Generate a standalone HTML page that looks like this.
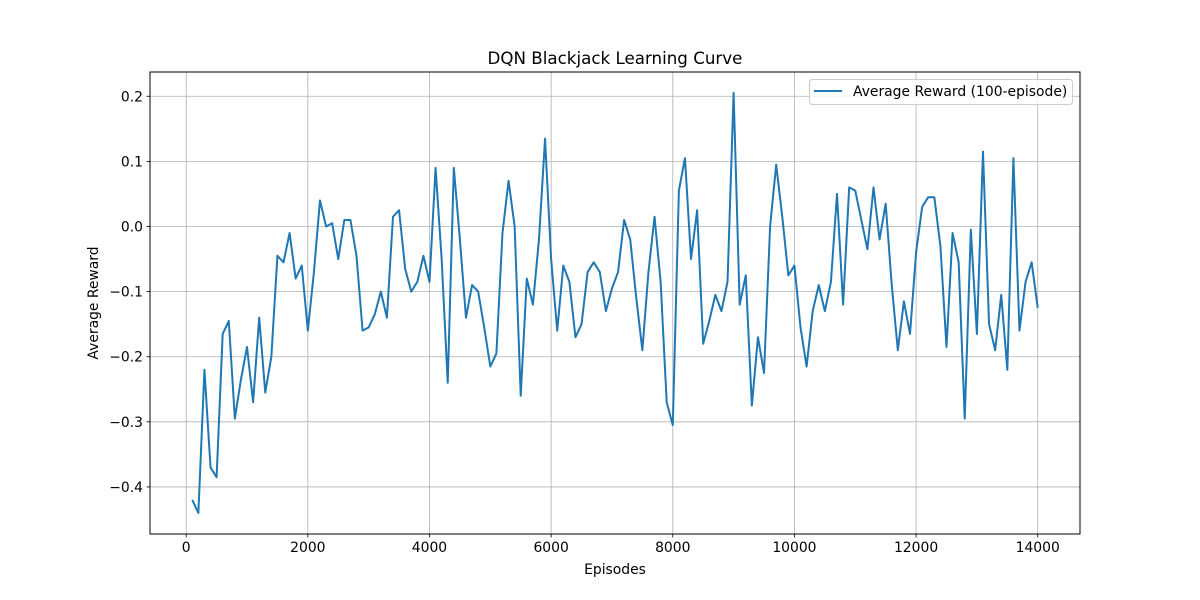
<!DOCTYPE html>
<html><head><meta charset="utf-8"><style>
body{margin:0;background:#fff}
svg{display:block;font-family:"DejaVu Sans","Liberation Sans",sans-serif}
</style></head><body>
<svg id="chart" width="1200" height="600">
<rect width="1200" height="600" fill="#fff"/>
<g id="grid"></g>
<g id="ticks"></g>
<polyline id="line" fill="none" stroke="#1f77b4" stroke-width="2" stroke-linejoin="round"/>
<rect x="150" y="72" width="930" height="462" fill="none" stroke="#000" stroke-width="1"/>
<text x="615" y="64" font-size="16.7" text-anchor="middle">DQN Blackjack Learning Curve</text>
<text x="615" y="574" font-size="13.9" text-anchor="middle">Episodes</text>
<text transform="translate(98,303) rotate(-90)" font-size="13.9" text-anchor="middle">Average Reward</text>
<g>
<rect x="809.5" y="79.5" width="263" height="25" rx="3" fill="#fff" fill-opacity="0.8" stroke="#ccc"/>
<line x1="814" y1="91" x2="842" y2="91" stroke="#1f77b4" stroke-width="2"/>
<text x="853" y="96" font-size="13.9">Average Reward (100-episode)</text>
</g>
</svg>
<script>
const rewards=[-0.42,-0.44,-0.22,-0.37,-0.385,-0.165,-0.145,-0.295,-0.235,-0.185,-0.27,-0.14,-0.255,-0.2,-0.045,-0.055,-0.01,-0.08,-0.06,-0.16,
-0.07,0.04,0.0,0.005,-0.05,0.01,0.01,-0.045,-0.16,-0.155,-0.135,-0.1,-0.14,0.015,0.025,-0.065,-0.1,-0.085,-0.045,-0.085,
0.09,-0.05,-0.24,0.09,-0.02,-0.14,-0.09,-0.1,-0.155,-0.215,-0.195,-0.01,0.07,0.0,-0.26,-0.08,-0.12,-0.02,0.135,-0.05,
-0.16,-0.06,-0.085,-0.17,-0.15,-0.07,-0.055,-0.07,-0.13,-0.095,-0.07,0.01,-0.02,-0.11,-0.19,-0.07,0.015,-0.085,-0.27,-0.305,
0.055,0.105,-0.05,0.025,-0.18,-0.145,-0.105,-0.13,-0.085,0.205,-0.12,-0.075,-0.275,-0.17,-0.225,0.0,0.095,0.015,-0.075,-0.06,
-0.155,-0.215,-0.13,-0.09,-0.13,-0.085,0.05,-0.12,0.06,0.055,0.01,-0.035,0.06,-0.02,0.035,-0.09,-0.19,-0.115,-0.165,-0.04,
0.03,0.045,0.045,-0.03,-0.185,-0.01,-0.055,-0.295,-0.005,-0.165,0.115,-0.15,-0.19,-0.105,-0.22,0.105,-0.16,-0.085,-0.055,-0.125];
const episodes=rewards.map((_,i)=>(i+1)*100);
const xTicks=[0,2000,4000,6000,8000,10000,12000,14000];
const yTicks=[-0.4,-0.3,-0.2,-0.1,0.0,0.1,0.2];
const yTickLabels=["−0.4","−0.3","−0.2","−0.1","0.0","0.1","0.2"];

const L=150,R=1080,T=72,B=534;
const xmin0=Math.min(...episodes),xmax0=Math.max(...episodes),xm=(xmax0-xmin0)*0.05;
const ymin0=Math.min(...rewards),ymax0=Math.max(...rewards),ym=(ymax0-ymin0)*0.05;
const xs=v=>L+(v-(xmin0-xm))/((xmax0+xm)-(xmin0-xm))*(R-L);
const ys=v=>B-(v-(ymin0-ym))/((ymax0+ym)-(ymin0-ym))*(B-T);
const NS="http://www.w3.org/2000/svg";
const grid=document.getElementById('grid'),ticks=document.getElementById('ticks');
function mk(tag,attrs,parent){const e=document.createElementNS(NS,tag);for(const k in attrs)e.setAttribute(k,attrs[k]);parent.appendChild(e);return e;}
xTicks.forEach(v=>{
  const x=xs(v);
  const g=mk('line',{x1:x,x2:x,y1:T,y2:B,stroke:'#b0b0b0','stroke-width':0.8},grid);
  
  
  const t=mk('line',{x1:x,x2:x,y1:B,y2:B+3.5,stroke:'#000','stroke-width':0.8},ticks);
  
  
  const l=mk('text',{x:x,y:B+18,'font-size':13.9,'text-anchor':'middle'},ticks);
  l.textContent=String(v);
  
  
});
yTicks.forEach((v,i)=>{
  const y=ys(v);
  const g=mk('line',{x1:L,x2:R,y1:y,y2:y,stroke:'#b0b0b0','stroke-width':0.8},grid);
  
  
  const t=mk('line',{x1:L-3.5,x2:L,y1:y,y2:y,stroke:'#000','stroke-width':0.8},ticks);
  
  
  const l=mk('text',{x:L-7,y:y+5,'font-size':13.9,'text-anchor':'end'},ticks);
  l.textContent=yTickLabels[i];
  
  
});
document.getElementById('line').setAttribute('points',episodes.map((e,i)=>xs(e).toFixed(2)+','+ys(rewards[i]).toFixed(2)).join(' '));
</script>
</body></html>
